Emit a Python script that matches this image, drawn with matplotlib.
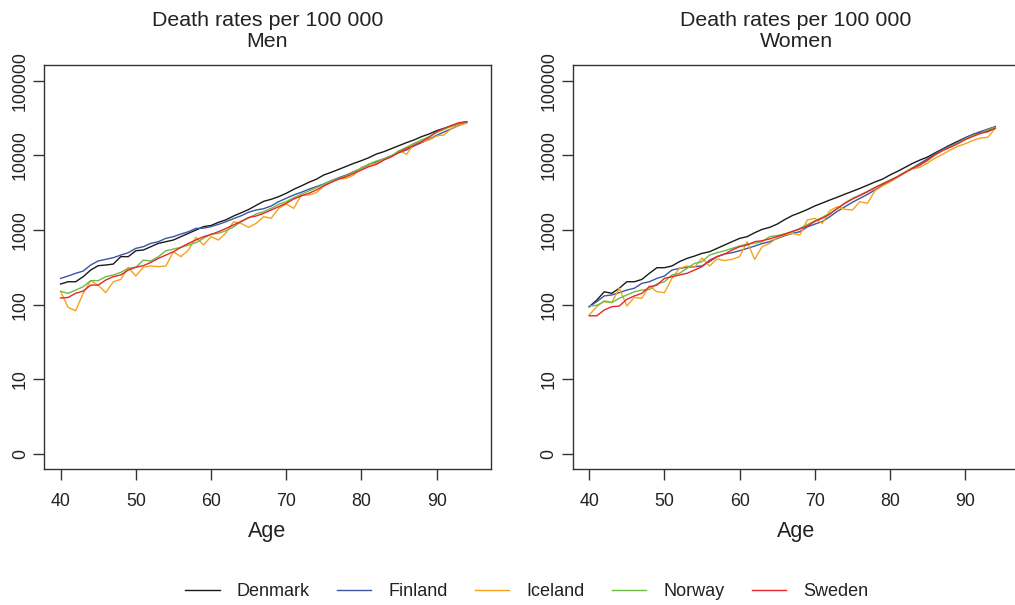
import numpy as np
import matplotlib
matplotlib.use("Agg")
import matplotlib.pyplot as plt

plt.rcParams['font.family'] = ['Liberation Sans', 'DejaVu Sans']

# ages 40..94
ages = list(range(40, 95))
countries = ["Denmark", "Finland", "Iceland", "Norway", "Sweden"]
colors = ["#1a1a1a", "#3c55a5", "#f7a21b", "#6cbd45", "#e8262a"]

# death rates per 100 000, men
men_denmark = [189, 203, 203, 237, 291, 333, 340, 350, 440, 440,
               528, 540, 598, 663, 698, 735, 815, 902, 1000, 1110,
               1150, 1270, 1370, 1540, 1700, 1880, 2140, 2420, 2580, 2800,
               3100, 3510, 3890, 4350, 4780, 5460, 5930, 6500, 7130, 7820,
               8490, 9310, 10420, 11210, 12300, 13490, 14800, 16070, 17800, 19300,
               21400, 23000, 24700, 26550, 28200]
men_finland = [225, 242, 263, 282, 340, 385, 405, 426, 462, 497,
               568, 598, 663, 698, 773, 815, 884, 949, 1052, 1060,
               1110, 1192, 1292, 1420, 1550, 1730, 1853, 1930, 2098, 2398,
               2656, 2944, 3199, 3508, 3808, 4133, 4581, 5024, 5460, 6053,
               6702, 7430, 8147, 8935, 9906, 10860, 11800, 13350, 14800, 16400,
               18540, 20560, 22760, 25230, 27670]
men_iceland = [151, 92, 83, 142, 210, 183, 145, 203, 218, 317,
               242, 317, 330, 323, 330, 512, 440, 540, 798, 630,
               815, 735, 920, 1290, 1228, 1086, 1228, 1510, 1435, 1950,
               2230, 1950, 2944, 2944, 3160, 3890, 4445, 4819, 4920, 5460,
               6918, 7500, 7820, 8850, 9594, 11560, 10330, 14200, 15100, 16070,
               18160, 18750, 23000, 25470, 26850]
men_norway = [151, 142, 157, 174, 210, 210, 237, 250, 271, 307,
              317, 396, 385, 440, 528, 556, 586, 630, 677, 773,
              880, 903, 980, 1100, 1300, 1450, 1640, 1762, 1950, 2208,
              2398, 2710, 3006, 3334, 3690, 4093, 4581, 4920, 5345, 6053,
              6702, 7656, 8396, 9035, 9800, 11560, 12800, 14500, 16070, 17800,
              20140, 22300, 24700, 26850, 28200]
men_sweden = [123, 125, 142, 152, 183, 183, 214, 237, 250, 291,
              317, 333, 369, 417, 462, 512, 586, 663, 735, 815,
              870, 950, 1050, 1170, 1300, 1470, 1541, 1672, 1853, 2054,
              2278, 2603, 2856, 3100, 3434, 3890, 4355, 4819, 5188, 5746,
              6363, 7057, 7586, 8670, 9594, 10970, 12410, 13610, 15240, 17420,
              20750, 23000, 25230, 27400, 28200]

# death rates per 100 000, women
women_denmark = [94, 115, 149, 142, 166, 203, 203, 218, 263, 313,
                 313, 330, 377, 417, 448, 487, 512, 568, 630, 698,
                 773, 815, 920, 1020, 1086, 1200, 1380, 1560, 1706, 1880,
                 2100, 2300, 2523, 2750, 3020, 3300, 3614, 3980, 4400, 4800,
                 5460, 6100, 6900, 7800, 8670, 9500, 10800, 12200, 13770, 15400,
                 17200, 18900, 20140, 21000, 24210]
women_finland = [94, 110, 131, 135, 145, 157, 166, 193, 203, 225,
                 242, 291, 307, 317, 323, 330, 377, 440, 477, 497,
                 528, 568, 610, 660, 698, 770, 840, 900, 949, 1100,
                 1200, 1300, 1510, 1780, 2050, 2350, 2656, 3000, 3450, 3950,
                 4445, 5100, 5900, 6800, 7820, 9000, 10500, 12000, 13350, 15000,
                 17100, 19100, 20750, 22500, 24210]
women_iceland = [73, 94, 113, 107, 166, 96, 125, 122, 178, 149,
                 145, 225, 307, 330, 317, 420, 330, 410, 390, 405,
                 440, 698, 405, 600, 663, 790, 860, 902, 858, 1361,
                 1435, 1228, 1815, 2054, 1893, 1853, 2398, 2278, 3365, 3890,
                 4445, 5100, 5900, 6600, 6918, 7900, 9200, 10300, 11800, 13200,
                 14300, 15800, 17000, 17420, 23000]
women_norway = [96, 98, 110, 107, 122, 135, 149, 157, 160, 189,
                203, 250, 263, 307, 357, 377, 462, 497, 528, 568,
                610, 649, 663, 700, 815, 840, 890, 940, 1052, 1180,
                1330, 1480, 1672, 1930, 2300, 2650, 2944, 3300, 3700, 4200,
                4674, 5200, 5950, 6750, 7430, 8500, 10100, 11600, 13050, 14600,
                16600, 18500, 19720, 22000, 23720]
women_sweden = [71, 71, 85, 94, 96, 118, 131, 142, 174, 183,
                225, 237, 250, 263, 291, 323, 396, 440, 477, 540,
                598, 630, 698, 720, 760, 820, 880, 960, 1030, 1130,
                1300, 1440, 1630, 1950, 2280, 2600, 2900, 3250, 3700, 4100,
                4600, 5200, 5900, 6700, 7430, 8700, 10200, 11600, 12800, 14300,
                16200, 17900, 19600, 20750, 23000]

men = [men_denmark, men_finland, men_iceland, men_norway, men_sweden]
women = [women_denmark, women_finland, women_iceland, women_norway, women_sweden]

y_ticks = [1, 10, 100, 1000, 10000, 100000]
y_labels = ["0", "10", "100", "1000", "10000", "100000"]
x_ticks = [40, 50, 60, 70, 80, 90]

fig = plt.figure(figsize=(10.15, 6.05), dpi=100)
ax_men = fig.add_axes([0.0434, 0.2248, 0.4401, 0.6678])
ax_women = fig.add_axes([0.5642, 0.2248, 0.4401, 0.6678])

for ax, data, sex in [(ax_men, men, "Men"), (ax_women, women, "Women")]:
    for vals, name, col in zip(data, countries, colors):
        ax.plot(ages, vals, color=col, lw=1.0, label=name)
    ax.set_yscale("log")
    ax.set_ylim(10 ** -0.2, 10 ** 5.21)
    ax.set_xlim(37.8, 97.2)
    ax.set_yticks(y_ticks)
    ax.set_yticklabels(y_labels, rotation=90, va="center")
    ax.yaxis.set_minor_locator(matplotlib.ticker.NullLocator())
    ax.set_xticks(x_ticks)
    ax.tick_params(axis="both", direction="out", length=8, width=1, colors="#333333",
                   labelsize=12.8, labelcolor="#222222")
    ax.tick_params(axis="x", pad=9)
    ax.tick_params(axis="y", pad=3)
    for sp in ax.spines.values():
        sp.set_color("#333333")
        sp.set_linewidth(1.0)
    ax.set_xlabel("Age", fontsize=15.5, color="#222222", labelpad=8)
    ax.set_title("Death rates per 100 000\n" + sex, fontsize=15.4, color="#222222",
                 pad=13, linespacing=1.15)

# shared legend at the bottom
handles, labels = ax_men.get_legend_handles_labels()
fig.legend(handles, labels, loc="center", bbox_to_anchor=(0.519, 0.0215), ncol=5,
           frameon=False, fontsize=13, handlelength=1.9, handletextpad=0.95,
           columnspacing=1.5, labelcolor="#222222")

plt.savefig("out.png", dpi=100)
